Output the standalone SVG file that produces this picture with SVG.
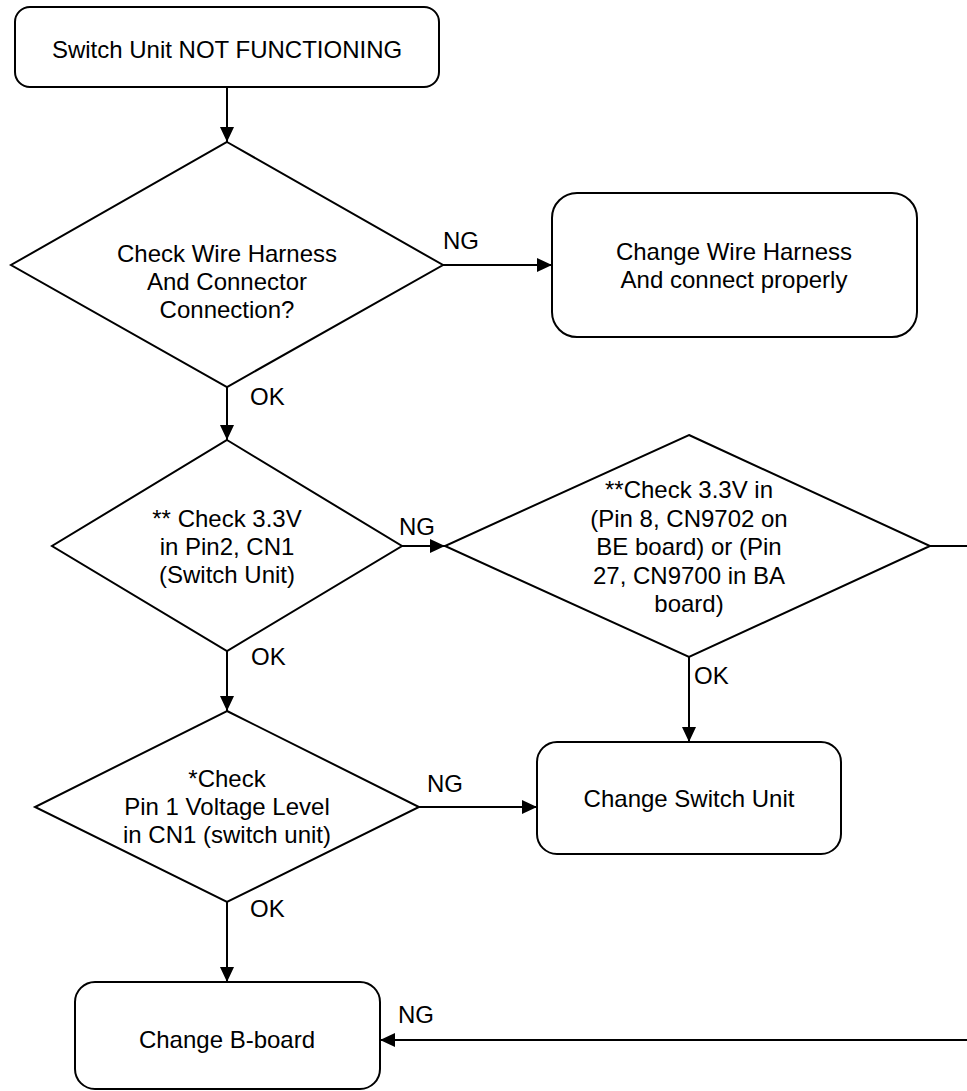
<svg xmlns="http://www.w3.org/2000/svg" width="967" height="1091" viewBox="0 0 967 1091">
  <defs>
    <marker id="arrow" markerUnits="userSpaceOnUse" markerWidth="16" markerHeight="14" refX="15" refY="7" orient="auto">
      <path d="M0,0 L15,7 L0,14 Z" fill="#000"/>
    </marker>
  </defs>
  <style>
    .shape { fill: #fff; stroke: #000; stroke-width: 2; }
    .wire { fill: none; stroke: #000; stroke-width: 2; }
    text { font-family: "Liberation Sans", Arial, sans-serif; font-size: 24px; fill: #000; }
    .c { text-anchor: middle; }
  </style>
  <rect width="967" height="1091" fill="#fff"/>

  <!-- connectors -->
  <g id="connectors">
    <line class="wire" x1="227" y1="87" x2="227" y2="142" marker-end="url(#arrow)"/>
    <line class="wire" x1="443" y1="265" x2="552" y2="265" marker-end="url(#arrow)"/>
    <line class="wire" x1="227" y1="387" x2="227" y2="440" marker-end="url(#arrow)"/>
    <line class="wire" x1="402" y1="546" x2="445" y2="546" marker-end="url(#arrow)"/>
    <line class="wire" x1="930" y1="546" x2="967" y2="546"/>
    <line class="wire" x1="689" y1="657" x2="689" y2="742" marker-end="url(#arrow)"/>
    <line class="wire" x1="227" y1="651" x2="227" y2="711" marker-end="url(#arrow)"/>
    <line class="wire" x1="419" y1="807" x2="537" y2="807" marker-end="url(#arrow)"/>
    <line class="wire" x1="227" y1="902" x2="227" y2="982" marker-end="url(#arrow)"/>
    <line class="wire" x1="967" y1="1040" x2="380" y2="1040" marker-end="url(#arrow)"/>
    <text x="443" y="249">NG</text>
    <text x="250" y="405">OK</text>
    <text x="399" y="535">NG</text>
    <text x="694" y="684">OK</text>
    <text x="251" y="665">OK</text>
    <text x="427" y="792">NG</text>
    <text x="250" y="917">OK</text>
    <text x="398" y="1023">NG</text>
  </g>

  <g id="start">
    <rect class="shape" x="15" y="7" width="424" height="80" rx="15"/>
    <text class="c" x="227" y="58">Switch Unit NOT FUNCTIONING</text>
  </g>

  <g id="check-harness">
    <polygon class="shape" points="227,142 443,265 227,387 11,265"/>
    <text class="c" x="227" y="262">Check Wire Harness</text>
    <text class="c" x="227" y="290">And Connector</text>
    <text class="c" x="227" y="318">Connection?</text>
  </g>

  <g id="change-harness">
    <rect class="shape" x="552" y="193" width="365" height="144" rx="25"/>
    <text class="c" x="734" y="260">Change Wire Harness</text>
    <text class="c" x="734" y="288">And connect properly</text>
  </g>

  <g id="check-pin2">
    <polygon class="shape" points="227,440 402,546 227,651 52,546"/>
    <text class="c" x="227" y="527">** Check 3.3V</text>
    <text class="c" x="227" y="555">in Pin2, CN1</text>
    <text class="c" x="227" y="583">(Switch Unit)</text>
  </g>

  <g id="check-board">
    <polygon class="shape" points="689,435 930,546 689,657 445,546"/>
    <text class="c" x="689" y="498">**Check 3.3V in</text>
    <text class="c" x="689" y="527">(Pin 8, CN9702 on</text>
    <text class="c" x="689" y="555">BE board) or (Pin</text>
    <text class="c" x="689" y="584">27, CN9700 in BA</text>
    <text class="c" x="689" y="612">board)</text>
  </g>

  <g id="check-pin1">
    <polygon class="shape" points="227,711 419,807 227,902 35,807"/>
    <text class="c" x="227" y="787">*Check</text>
    <text class="c" x="227" y="815">Pin 1 Voltage Level</text>
    <text class="c" x="227" y="843">in CN1 (switch unit)</text>
  </g>

  <g id="change-switch">
    <rect class="shape" x="537" y="742" width="304" height="112" rx="20"/>
    <text class="c" x="689" y="807">Change Switch Unit</text>
  </g>

  <g id="change-board">
    <rect class="shape" x="75" y="982" width="305" height="107" rx="20"/>
    <text class="c" x="227" y="1048">Change B-board</text>
  </g>
</svg>
